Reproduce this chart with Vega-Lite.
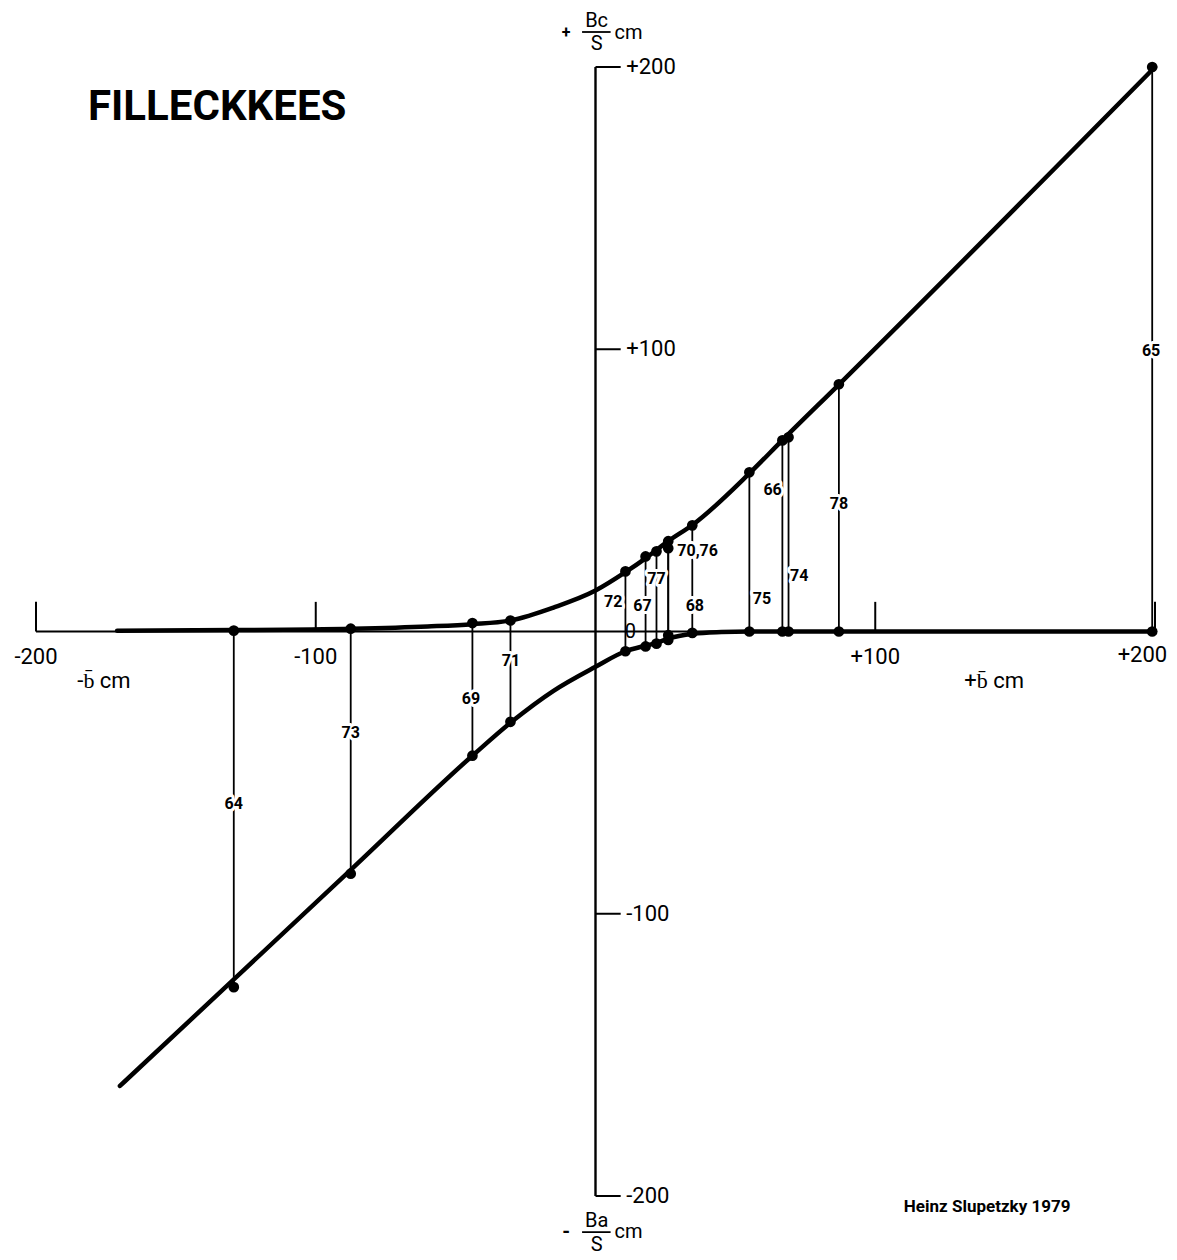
{
  "$schema": "https://vega.github.io/schema/vega-lite/v6.json",
  "width": 1119,
  "height": 1129,
  "autosize": {"type": "none"},
  "padding": {"left": 36, "top": 67, "right": 22, "bottom": 64},
  "background": "white",
  "config": {"view": {"stroke": null}, "text": {"font": "Roboto", "color": "black"}},
  "datasets": {
    "years": [
      {"year": "1964", "b": -129.3, "bc": 0.3, "ba": -126},
      {"year": "1973", "b": -87.5, "bc": 1, "ba": -85.8},
      {"year": "1969", "b": -44, "bc": 3, "ba": -44},
      {"year": "1971", "b": -30.4, "bc": 3.9, "ba": -32},
      {"year": "1972", "b": 10.7, "bc": 21.3, "ba": -7},
      {"year": "1967", "b": 17.9, "bc": 26.6, "ba": -5.3},
      {"year": "1977", "b": 21.8, "bc": 28.4, "ba": -4.3},
      {"year": "1970", "b": 26, "bc": 32, "ba": -1.3},
      {"year": "1976", "b": 26, "bc": 29.5, "ba": -3},
      {"year": "1968", "b": 34.6, "bc": 37.6, "ba": -0.5},
      {"year": "1975", "b": 55, "bc": 56.4, "ba": 0},
      {"year": "1966", "b": 66.8, "bc": 67.7, "ba": 0},
      {"year": "1974", "b": 69, "bc": 68.8, "ba": 0},
      {"year": "1978", "b": 87, "bc": 87.6, "ba": 0},
      {"year": "1965", "b": 199, "bc": 200, "ba": 0}
    ],
    "labels": [
      {"text": "64", "x": -129.3, "y": -61},
      {"text": "73", "x": -87.5, "y": -36},
      {"text": "69", "x": -44.5, "y": -24},
      {"text": "71", "x": -30.2, "y": -10.5},
      {"text": "72", "x": 6.3, "y": 10.5},
      {"text": "67", "x": 16.8, "y": 9},
      {"text": "77", "x": 21.8, "y": 18.5},
      {"text": "70,76", "x": 36.5, "y": 28.5},
      {"text": "68", "x": 35.5, "y": 9},
      {"text": "75", "x": 59.5, "y": 11.5},
      {"text": "66", "x": 63.3, "y": 50},
      {"text": "74", "x": 72.8, "y": 19.5},
      {"text": "78", "x": 87, "y": 45},
      {"text": "65", "x": 198.6, "y": 99.5}
    ],
    "curves": [
      {"curve": "upper", "x": -171, "y": 0.3},
      {"curve": "upper", "x": -129, "y": 0.5},
      {"curve": "upper", "x": -87, "y": 1},
      {"curve": "upper", "x": -60, "y": 1.8},
      {"curve": "upper", "x": -44, "y": 2.6},
      {"curve": "upper", "x": -30, "y": 4},
      {"curve": "upper", "x": -15, "y": 8.5},
      {"curve": "upper", "x": 0, "y": 14.5},
      {"curve": "upper", "x": 10.7, "y": 21},
      {"curve": "upper", "x": 18, "y": 26},
      {"curve": "upper", "x": 26, "y": 32},
      {"curve": "upper", "x": 35, "y": 38},
      {"curve": "upper", "x": 55, "y": 56},
      {"curve": "upper", "x": 67, "y": 68},
      {"curve": "upper", "x": 87, "y": 87.5},
      {"curve": "upper", "x": 200, "y": 200},
      {"curve": "lower", "x": -170, "y": -161},
      {"curve": "lower", "x": -129, "y": -123},
      {"curve": "lower", "x": -87, "y": -84},
      {"curve": "lower", "x": -44, "y": -44},
      {"curve": "lower", "x": -30, "y": -32},
      {"curve": "lower", "x": -15, "y": -21},
      {"curve": "lower", "x": 0, "y": -12.5},
      {"curve": "lower", "x": 10.7, "y": -7},
      {"curve": "lower", "x": 18, "y": -5},
      {"curve": "lower", "x": 22, "y": -4},
      {"curve": "lower", "x": 26, "y": -2.5},
      {"curve": "lower", "x": 35, "y": -0.8},
      {"curve": "lower", "x": 45, "y": -0.2},
      {"curve": "lower", "x": 55, "y": 0},
      {"curve": "lower", "x": 200, "y": 0}
    ],
    "ticks": [
      {"t": -200, "label": "-200", "ylabel": "-200"},
      {"t": -100, "label": "-100", "ylabel": "-100"},
      {"t": 100, "label": "+100", "ylabel": "+100"},
      {"t": 200, "label": "+200", "ylabel": "+200"}
    ]
  },
  "layer": [
    {
      "data": {"name": "curves"},
      "mark": {"type": "line", "color": "black", "strokeWidth": 4.5, "strokeCap": "round", "interpolate": "monotone"},
      "encoding": {
        "x": {"field": "x", "type": "quantitative", "scale": {"domain": [-200, 200], "nice": false, "zero": false}, "axis": null},
        "y": {"field": "y", "type": "quantitative", "scale": {"domain": [-200, 200], "nice": false, "zero": false}, "axis": null},
        "detail": {"field": "curve"}
      }
    },
    {
      "data": {"values": [{}]},
      "mark": {"type": "rule", "color": "black", "strokeWidth": 2.2},
      "encoding": {"x": {"datum": -200}, "x2": {"datum": 200}, "y": {"datum": 0}}
    },
    {
      "data": {"values": [{}]},
      "mark": {"type": "rule", "color": "black", "strokeWidth": 2.4},
      "encoding": {"y": {"datum": -200}, "y2": {"datum": 200}, "x": {"datum": 0}}
    },
    {
      "data": {"name": "ticks"},
      "mark": {"type": "rule", "color": "black", "strokeWidth": 2},
      "encoding": {"x": {"field": "t", "type": "quantitative"}, "y": {"datum": 0}, "y2": {"datum": 10.5}}
    },
    {
      "data": {"name": "ticks"},
      "mark": {"type": "rule", "color": "black", "strokeWidth": 2},
      "encoding": {"y": {"field": "t", "type": "quantitative"}, "x": {"datum": 0}, "x2": {"datum": 9}}
    },
    {
      "data": {"name": "ticks"},
      "transform": [{"filter": "datum.t < 200"}],
      "mark": {"type": "text", "fontSize": 22, "align": "center", "baseline": "middle"},
      "encoding": {"x": {"field": "t", "type": "quantitative"}, "y": {"datum": -9}, "text": {"field": "label"}}
    },
    {
      "data": {"values": [{}]},
      "mark": {"type": "text", "text": "+200", "fontSize": 22, "align": "center", "baseline": "middle"},
      "encoding": {"x": {"datum": 195.5}, "y": {"datum": -8.5}}
    },
    {
      "data": {"name": "ticks"},
      "mark": {"type": "text", "fontSize": 22, "align": "left", "baseline": "middle"},
      "encoding": {"y": {"field": "t", "type": "quantitative"}, "x": {"datum": 11}, "text": {"field": "ylabel"}}
    },
    {
      "data": {"name": "years"},
      "mark": {"type": "rule", "color": "black", "strokeWidth": 1.8},
      "encoding": {
        "x": {"field": "b", "type": "quantitative"},
        "y": {"field": "ba", "type": "quantitative"},
        "y2": {"field": "bc"}
      }
    },
    {
      "data": {"name": "years"},
      "mark": {"type": "circle", "color": "black", "opacity": 1, "size": 115},
      "encoding": {"x": {"field": "b", "type": "quantitative"}, "y": {"field": "bc", "type": "quantitative"}}
    },
    {
      "data": {"name": "years"},
      "mark": {"type": "circle", "color": "black", "opacity": 1, "size": 115},
      "encoding": {"x": {"field": "b", "type": "quantitative"}, "y": {"field": "ba", "type": "quantitative"}}
    },
    {
      "data": {"name": "labels"},
      "mark": {"type": "text", "fontSize": 16, "fontWeight": "bold", "align": "center", "baseline": "middle", "stroke": "white", "strokeWidth": 6, "strokeJoin": "round"},
      "encoding": {"x": {"field": "x", "type": "quantitative"}, "y": {"field": "y", "type": "quantitative"}, "text": {"field": "text"}}
    },
    {
      "data": {"name": "labels"},
      "mark": {"type": "text", "fontSize": 16, "fontWeight": "bold", "align": "center", "baseline": "middle"},
      "encoding": {"x": {"field": "x", "type": "quantitative"}, "y": {"field": "y", "type": "quantitative"}, "text": {"field": "text"}}
    },
    {
      "data": {"values": [{}]},
      "mark": {"type": "text", "text": "FILLECKKEES", "fontSize": 42, "fontWeight": "bold", "align": "left", "baseline": "middle"},
      "encoding": {"x": {"datum": -181.4}, "y": {"datum": 185.8}}
    },
    {
      "data": {"values": [{}]},
      "mark": {"type": "text", "text": "Heinz Slupetzky 1979", "fontSize": 17, "fontWeight": "bold", "align": "center", "baseline": "middle"},
      "encoding": {"x": {"datum": 140}, "y": {"datum": -203.9}}
    },
    {
      "data": {"values": [{}]},
      "mark": {"type": "text", "text": "-b\u0304 cm", "fontSize": 22, "align": "center", "baseline": "middle"},
      "encoding": {"x": {"datum": -175.7}, "y": {"datum": -17.5}}
    },
    {
      "data": {"values": [{}]},
      "mark": {"type": "text", "text": "+b\u0304 cm", "fontSize": 22, "align": "center", "baseline": "middle"},
      "encoding": {"x": {"datum": 142.5}, "y": {"datum": -17.7}}
    },
    {
      "data": {"values": [{}]},
      "mark": {"type": "text", "text": "0", "fontSize": 20, "align": "center", "baseline": "middle"},
      "encoding": {"x": {"datum": 12.5}, "y": {"datum": -0.3}}
    },
    {
      "data": {"values": [{}]},
      "mark": {"type": "text", "text": "+", "fontSize": 16, "fontWeight": "bold", "align": "center", "baseline": "middle"},
      "encoding": {"x": {"datum": -10.5}, "y": {"datum": 212.2}}
    },
    {
      "data": {"values": [{}]},
      "mark": {"type": "text", "text": "Bc", "fontSize": 20, "align": "center", "baseline": "middle"},
      "encoding": {"x": {"datum": 0.4}, "y": {"datum": 216.3}}
    },
    {
      "data": {"values": [{}]},
      "mark": {"type": "rule", "color": "black", "strokeWidth": 1.8},
      "encoding": {"x": {"datum": -4.8}, "x2": {"datum": 5.4}, "y": {"datum": 212.4}}
    },
    {
      "data": {"values": [{}]},
      "mark": {"type": "text", "text": "S", "fontSize": 20, "align": "center", "baseline": "middle"},
      "encoding": {"x": {"datum": 0.4}, "y": {"datum": 208}}
    },
    {
      "data": {"values": [{}]},
      "mark": {"type": "text", "text": "cm", "fontSize": 20, "align": "left", "baseline": "middle"},
      "encoding": {"x": {"datum": 6.8}, "y": {"datum": 212.2}}
    },
    {
      "data": {"values": [{}]},
      "mark": {"type": "text", "text": "-", "fontSize": 20, "fontWeight": "bold", "align": "center", "baseline": "middle"},
      "encoding": {"x": {"datum": -10.5}, "y": {"datum": -212.8}}
    },
    {
      "data": {"values": [{}]},
      "mark": {"type": "text", "text": "Ba", "fontSize": 20, "align": "center", "baseline": "middle"},
      "encoding": {"x": {"datum": 0.4}, "y": {"datum": -209}}
    },
    {
      "data": {"values": [{}]},
      "mark": {"type": "rule", "color": "black", "strokeWidth": 1.8},
      "encoding": {"x": {"datum": -4.8}, "x2": {"datum": 5.4}, "y": {"datum": -212.8}}
    },
    {
      "data": {"values": [{}]},
      "mark": {"type": "text", "text": "S", "fontSize": 20, "align": "center", "baseline": "middle"},
      "encoding": {"x": {"datum": 0.4}, "y": {"datum": -217.5}}
    },
    {
      "data": {"values": [{}]},
      "mark": {"type": "text", "text": "cm", "fontSize": 20, "align": "left", "baseline": "middle"},
      "encoding": {"x": {"datum": 6.8}, "y": {"datum": -212.8}}
    }
  ]
}
